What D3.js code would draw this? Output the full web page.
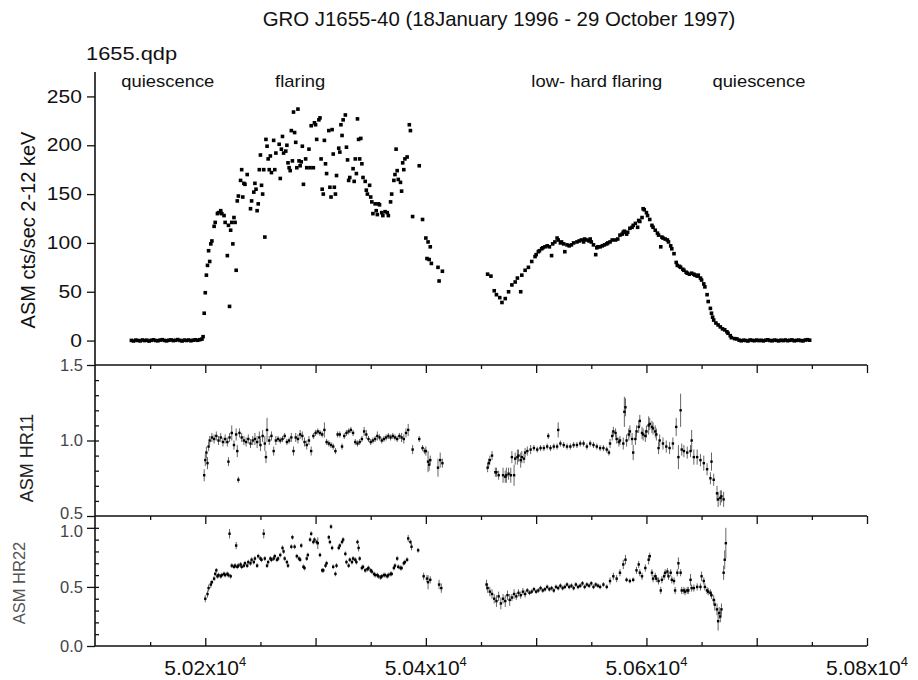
<!DOCTYPE html>
<html>
<head>
<meta charset="utf-8">
<script src="https://cdn.jsdelivr.net/npm/d3@7"></script>
<style>
  body { margin: 0; background: #fff; }
  svg { display: block; font-family: "Liberation Sans", Arial, sans-serif; }
</style>
</head>
<body>
<div class="board"></div>
<script>
// GRO J1655-40, RXTE ASM light curve + hardness ratios

/////// DATA ///////////////////////////////////////

let titleText = 'GRO J1655-40 (18January 1996 - 29 October 1997)';
let fileLabel = '1655.qdp';

let phases = [
	{ label: 'quiescence', day: 50166 },
	{ label: 'flaring', day: 50286 },
	{ label: 'low- hard flaring', day: 50555 },
	{ label: 'quiescence', day: 50702 }
];

let xTicks = [50200, 50400, 50600, 50800];
let xTickText = ['5.02x10', '5.04x10', '5.06x10', '5.08x10'];
let rateTicks = [0, 50, 100, 150, 200, 250];
let hr11Ticks = [0.5, 1.0, 1.5];
let hr22Ticks = [0.0, 0.5, 1.0];

// [MJD, ASM cts/s]
let rateQuiet1 = [[50133,0.2],[50135,-0.4],[50137,0.5],[50139,0.1],[50141,-0.3],[50143,0.6],[50145,0.0],[50147,0.4],[50149,-0.5],[50151,0.3],[50153,0.8],[50155,0.1],[50157,-0.2],[50159,0.5],[50161,0.9],[50163,0.2],[50165,-0.3],[50167,0.4],[50169,0.7],[50171,0.0],[50173,0.3],[50175,1.0],[50177,0.2],[50179,-0.4],[50181,0.5],[50183,0.1],[50185,0.6],[50187,-0.2],[50189,0.4],[50191,0.8],[50193,0.3],[50195,0.9],[50197,1.5],[50198,4.0]];

let rateFlare = [[50199,28],[50200,49],[50201,67],[50202,77],[50203,92],[50204,81],[50205,99],[50206,102],[50208,117],[50209,121],[50211,130],[50212,131],[50214,133],[50215,130],[50217,128],[50218,121],[50220,87],[50221,118],[50222,35],[50223,113],[50224,121],[50225,99],[50226,126],[50227,121],[50228,72],[50229,143],[50230,148],[50232,164],[50233,175],[50234,147],[50235,161],[50236,160],[50238,170],[50241,135],[50242,143],[50244,152],[50245,161],[50246,155],[50247,133],[50248,140],[50249,175],[50250,190],[50251,159],[50252,150],[50253,175],[50254,106],[50255,206],[50256,199],[50257,186],[50258,175],[50259,189],[50260,172],[50262,205],[50263,175],[50264,192],[50267,201],[50268,166],[50269,196],[50270,209],[50271,192],[50273,194],[50274,200],[50275,182],[50276,177],[50277,174],[50278,215],[50279,184],[50280,234],[50281,213],[50282,203],[50283,177],[50284,237],[50285,184],[50286,179],[50287,183],[50288,199],[50289,160],[50291,186],[50292,177],[50294,196],[50295,177],[50296,220],[50298,177],[50299,223],[50300,221],[50301,206],[50303,226],[50304,228],[50305,186],[50306,155],[50307,150],[50308,205],[50309,181],[50310,171],[50312,215],[50313,157],[50314,147],[50315,216],[50316,191],[50317,157],[50318,150],[50319,169],[50321,197],[50322,193],[50323,221],[50324,210],[50325,226],[50327,231],[50328,198],[50329,185],[50330,164],[50331,167],[50334,176],[50335,163],[50336,186],[50337,171],[50338,227],[50339,206],[50340,186],[50341,207],[50342,181],[50343,167],[50345,163],[50346,154],[50347,150],[50349,159],[50350,147],[50351,142],[50352,130],[50354,140],[50355,133],[50356,129],[50357,140],[50358,139],[50360,131],[50361,128],[50363,132],[50365,131],[50366,128],[50368,142],[50369,150],[50371,164],[50372,170],[50373,196],[50374,174],[50375,165],[50377,162],[50378,153],[50379,182],[50380,175],[50381,186],[50383,188],[50385,221],[50386,215],[50388,127],[50394,179],[50397,124],[50400,105],[50401,84],[50402,101],[50403,83],[50404,96],[50405,79],[50411,75],[50412,61],[50415,71]];

let rateLowHard = [[50456,68],[50459,66],[50462,51],[50464,47],[50467,44],[50469,39],[50472,43],[50475,50],[50478,57],[50481,60],[50483,64],[50486,50],[50487,67],[50490,72],[50493,75],[50496,81],[50499,86],[50500,88],[50502,91],[50503,92],[50505,94],[50506,95],[50508,96],[50510,97],[50512,96],[50514,87],[50515,99],[50517,101],[50519,105],[50520,103],[50522,100],[50523,101],[50525,99],[50526,91],[50528,98],[50530,97],[50532,98],[50534,100],[50537,101],[50539,102],[50541,103],[50543,101],[50544,104],[50546,103],[50548,102],[50549,104],[50550,101],[50552,98],[50554,88],[50555,95],[50556,96],[50558,96],[50560,97],[50562,98],[50564,99],[50565,100],[50567,101],[50569,103],[50572,103],[50574,104],[50576,108],[50578,109],[50579,111],[50580,112],[50582,109],[50583,111],[50585,115],[50587,116],[50588,118],[50590,120],[50592,116],[50593,123],[50594,122],[50596,126],[50597,135],[50598,134],[50600,131],[50601,128],[50603,124],[50605,118],[50606,116],[50608,113],[50610,110],[50611,108],[50613,96],[50614,106],[50615,105],[50617,104],[50619,103],[50620,101],[50622,97],[50623,94],[50625,89],[50627,80],[50628,77],[50630,76],[50631,75],[50633,73],[50634,72],[50636,70],[50637,69],[50639,68],[50641,69],[50643,68],[50644,67],[50646,66],[50647,67],[50649,64],[50650,62],[50652,58],[50653,55],[50655,47],[50656,40],[50658,33],[50659,28],[50660,24],[50661,21],[50663,18],[50665,16],[50667,14],[50669,12],[50671,11],[50673,9],[50674,7.5],[50676,5],[50677,3],[50680,2],[50682,1.7]];

let rateQuiet2 = [[50684,0.5],[50686,-0.2],[50688,0.4],[50690,0.1],[50692,-0.4],[50694,0.6],[50696,0.2],[50698,-0.1],[50700,0.5],[50702,0.0],[50704,0.3],[50706,-0.3],[50708,0.4],[50710,0.8],[50712,0.1],[50714,-0.2],[50716,0.5],[50718,0.2],[50720,-0.3],[50722,0.4],[50724,0.0],[50726,0.6],[50728,-0.1],[50730,0.3],[50732,0.7],[50734,-0.2],[50736,0.2],[50738,0.5],[50740,0.0],[50742,-0.3],[50744,0.6],[50746,0.9],[50748,0.4]];

// [MJD, HR1, error]
let hr11Flare = [[50199,0.77,0.04],[50200,0.87,0.04],[50201,0.92,0.04],[50202,0.85,0.04],[50203,0.96,0.03],[50204,1.00,0.03],[50206,1.02,0.03],[50208,1.01,0.03],[50210,1.03,0.03],[50212,1.00,0.03],[50214,1.02,0.03],[50216,0.99,0.03],[50218,1.01,0.03],[50220,0.99,0.03],[50221,0.86,0.03],[50222,1.02,0.03],[50224,1.05,0.05],[50226,0.97,0.03],[50228,1.04,0.04],[50229,0.93,0.04],[50230,0.74,0.02],[50231,1.05,0.03],[50233,1.02,0.03],[50235,1.00,0.03],[50237,0.99,0.03],[50239,1.01,0.03],[50241,0.98,0.03],[50243,1.00,0.03],[50245,1.01,0.04],[50247,0.99,0.04],[50249,1.02,0.04],[50250,0.97,0.04],[50252,1.03,0.04],[50254,0.98,0.05],[50255,0.89,0.04],[50256,1.07,0.08],[50258,1.00,0.03],[50260,1.03,0.03],[50262,0.93,0.03],[50264,1.00,0.03],[50266,1.01,0.02],[50268,1.00,0.02],[50270,1.01,0.02],[50272,1.03,0.02],[50274,0.99,0.02],[50276,1.00,0.02],[50278,1.02,0.03],[50280,0.93,0.03],[50282,1.02,0.03],[50284,1.01,0.03],[50286,1.04,0.03],[50288,1.03,0.03],[50290,0.99,0.03],[50292,0.97,0.03],[50294,1.00,0.03],[50296,0.93,0.03],[50298,1.03,0.02],[50300,1.05,0.02],[50302,1.06,0.02],[50304,1.05,0.02],[50306,1.04,0.02],[50308,1.07,0.05],[50310,0.99,0.02],[50312,0.98,0.02],[50314,0.97,0.02],[50316,0.96,0.02],[50318,0.93,0.02],[50320,1.04,0.02],[50322,1.04,0.02],[50324,0.96,0.02],[50326,1.03,0.02],[50328,1.05,0.02],[50330,1.06,0.02],[50332,1.07,0.02],[50334,1.05,0.02],[50336,0.99,0.02],[50338,0.98,0.02],[50340,0.99,0.02],[50342,1.01,0.02],[50344,1.06,0.03],[50346,1.04,0.03],[50348,1.01,0.02],[50350,0.99,0.02],[50352,1.00,0.02],[50354,1.01,0.02],[50356,1.03,0.03],[50358,1.02,0.02],[50360,1.00,0.02],[50362,1.01,0.02],[50364,1.02,0.02],[50366,1.03,0.02],[50368,1.02,0.02],[50370,1.03,0.02],[50372,1.02,0.02],[50374,1.01,0.02],[50376,1.03,0.02],[50378,1.02,0.03],[50380,1.01,0.03],[50382,1.05,0.03],[50384,1.07,0.04],[50388,0.94,0.03],[50394,1.01,0.02],[50397,0.95,0.02],[50399,0.93,0.02],[50400,0.93,0.03],[50402,0.86,0.07],[50403,0.84,0.04],[50404,0.87,0.03],[50411,0.82,0.06],[50413,0.87,0.05],[50415,0.85,0.03]];

let hr11LowHard = [[50456,0.82,0.03],[50457,0.85,0.03],[50458,0.87,0.03],[50460,0.90,0.03],[50463,0.79,0.03],[50464,0.79,0.03],[50466,0.77,0.03],[50470,0.77,0.05],[50472,0.76,0.04],[50473,0.77,0.05],[50475,0.78,0.04],[50477,0.77,0.05],[50478,0.89,0.04],[50480,0.77,0.07],[50481,0.88,0.04],[50483,0.89,0.05],[50484,0.90,0.04],[50486,0.87,0.05],[50487,0.89,0.04],[50489,0.88,0.03],[50490,0.92,0.03],[50492,0.93,0.03],[50495,0.94,0.03],[50498,0.95,0.02],[50501,0.94,0.02],[50504,0.95,0.02],[50507,0.95,0.02],[50510,0.96,0.02],[50511,1.03,0.02],[50513,0.95,0.02],[50516,0.96,0.02],[50519,0.96,0.02],[50520,1.07,0.05],[50522,0.98,0.02],[50525,0.97,0.02],[50528,0.96,0.02],[50531,0.96,0.02],[50534,0.97,0.02],[50537,0.97,0.02],[50540,0.98,0.02],[50543,0.98,0.02],[50546,0.96,0.02],[50549,0.98,0.02],[50552,0.97,0.02],[50555,0.96,0.02],[50558,0.95,0.02],[50561,0.95,0.02],[50564,0.94,0.02],[50566,0.92,0.02],[50567,0.98,0.03],[50569,1.03,0.03],[50570,1.06,0.03],[50572,1.05,0.03],[50573,1.01,0.03],[50575,0.99,0.03],[50576,1.00,0.03],[50579,0.98,0.04],[50580,1.19,0.10],[50581,1.22,0.06],[50582,1.00,0.04],[50584,1.04,0.04],[50585,1.06,0.04],[50587,1.01,0.04],[50588,0.92,0.05],[50590,1.01,0.04],[50591,1.06,0.04],[50593,1.09,0.04],[50594,1.13,0.04],[50596,1.05,0.04],[50597,1.04,0.04],[50599,1.03,0.04],[50600,1.06,0.04],[50602,1.10,0.06],[50603,1.11,0.04],[50605,1.09,0.04],[50606,1.08,0.04],[50608,1.06,0.04],[50609,1.04,0.04],[50611,0.95,0.04],[50612,1.00,0.04],[50615,0.98,0.04],[50618,0.96,0.04],[50621,0.95,0.04],[50624,0.98,0.04],[50627,1.09,0.06],[50629,0.89,0.08],[50631,1.20,0.11],[50632,0.94,0.04],[50634,0.93,0.04],[50637,0.92,0.04],[50640,0.93,0.04],[50641,1.00,0.07],[50643,0.89,0.05],[50646,0.89,0.05],[50649,0.87,0.04],[50652,0.85,0.05],[50655,0.81,0.04],[50658,0.75,0.04],[50659,0.86,0.06],[50661,0.74,0.04],[50664,0.65,0.05],[50665,0.61,0.05],[50667,0.62,0.05],[50668,0.63,0.04],[50670,0.61,0.05]];

// [MJD, HR2, error]
let hr22Flare = [[50200,0.40,0.03],[50202,0.44,0.03],[50203,0.49,0.03],[50205,0.52,0.03],[50206,0.54,0.02],[50208,0.57,0.02],[50209,0.61,0.02],[50210,0.64,0.02],[50211,0.59,0.02],[50212,0.60,0.02],[50214,0.59,0.02],[50215,0.60,0.02],[50217,0.61,0.02],[50218,0.60,0.02],[50220,0.61,0.02],[50221,0.60,0.02],[50222,0.95,0.04],[50223,0.59,0.02],[50224,0.68,0.02],[50226,0.67,0.02],[50227,0.68,0.02],[50228,0.85,0.03],[50229,0.67,0.02],[50230,0.68,0.02],[50232,0.69,0.02],[50233,0.67,0.02],[50235,0.68,0.02],[50236,0.70,0.02],[50238,0.68,0.02],[50239,0.71,0.02],[50241,0.70,0.02],[50242,0.73,0.02],[50244,0.71,0.02],[50245,0.74,0.02],[50247,0.68,0.02],[50248,0.76,0.02],[50250,0.74,0.02],[50251,0.73,0.02],[50253,0.95,0.04],[50254,0.74,0.02],[50256,0.68,0.02],[50257,0.71,0.02],[50259,0.74,0.02],[50260,0.73,0.02],[50262,0.74,0.02],[50263,0.76,0.02],[50265,0.73,0.02],[50266,0.74,0.02],[50268,0.77,0.02],[50270,0.83,0.02],[50271,0.80,0.02],[50272,0.74,0.02],[50274,0.71,0.02],[50275,0.68,0.02],[50278,0.84,0.02],[50279,0.92,0.02],[50281,0.84,0.02],[50283,0.76,0.02],[50285,0.74,0.02],[50286,0.73,0.02],[50287,0.85,0.02],[50289,0.67,0.02],[50290,0.66,0.02],[50292,0.74,0.02],[50293,0.77,0.02],[50295,0.90,0.02],[50296,0.95,0.02],[50298,0.88,0.02],[50299,0.90,0.02],[50301,0.88,0.02],[50302,0.87,0.05],[50304,0.77,0.02],[50306,0.64,0.02],[50307,0.64,0.02],[50309,0.68,0.02],[50310,0.70,0.02],[50312,0.92,0.02],[50313,0.88,0.02],[50314,1.01,0.02],[50315,0.83,0.02],[50316,0.67,0.02],[50318,0.61,0.02],[50319,0.68,0.02],[50321,0.83,0.02],[50322,0.85,0.02],[50324,0.88,0.02],[50325,0.90,0.02],[50327,0.78,0.02],[50328,0.71,0.02],[50330,0.68,0.02],[50331,0.73,0.02],[50333,0.71,0.02],[50334,0.74,0.02],[50336,0.73,0.02],[50337,0.71,0.02],[50338,0.88,0.02],[50339,0.83,0.03],[50340,0.74,0.02],[50342,0.66,0.02],[50343,0.67,0.02],[50345,0.64,0.02],[50347,0.65,0.02],[50348,0.66,0.02],[50350,0.64,0.02],[50351,0.63,0.02],[50353,0.61,0.02],[50354,0.60,0.02],[50356,0.60,0.02],[50357,0.59,0.02],[50359,0.58,0.02],[50360,0.59,0.02],[50362,0.60,0.02],[50363,0.60,0.02],[50365,0.59,0.02],[50366,0.60,0.02],[50368,0.61,0.02],[50369,0.61,0.02],[50371,0.66,0.02],[50372,0.68,0.02],[50374,0.74,0.02],[50375,0.67,0.02],[50377,0.66,0.02],[50378,0.66,0.02],[50380,0.70,0.02],[50381,0.71,0.02],[50383,0.73,0.02],[50384,0.91,0.03],[50386,0.88,0.02],[50387,0.84,0.03],[50393,0.81,0.02],[50398,0.59,0.03],[50401,0.57,0.03],[50402,0.54,0.06],[50404,0.56,0.03],[50412,0.52,0.04],[50414,0.49,0.04]];

let hr22LowHard = [[50455,0.52,0.04],[50456,0.49,0.04],[50458,0.46,0.04],[50460,0.44,0.04],[50462,0.40,0.04],[50464,0.38,0.05],[50466,0.42,0.04],[50468,0.36,0.05],[50470,0.40,0.04],[50472,0.38,0.05],[50474,0.43,0.04],[50476,0.39,0.05],[50478,0.41,0.03],[50480,0.44,0.04],[50482,0.42,0.03],[50484,0.45,0.03],[50486,0.43,0.03],[50488,0.46,0.03],[50490,0.44,0.03],[50492,0.47,0.02],[50494,0.45,0.02],[50496,0.46,0.02],[50498,0.48,0.02],[50500,0.46,0.02],[50502,0.47,0.02],[50504,0.49,0.02],[50506,0.47,0.02],[50508,0.48,0.02],[50510,0.50,0.02],[50512,0.48,0.02],[50514,0.49,0.02],[50516,0.47,0.02],[50518,0.50,0.02],[50520,0.49,0.02],[50522,0.51,0.02],[50524,0.49,0.02],[50526,0.50,0.02],[50528,0.52,0.02],[50530,0.50,0.02],[50532,0.51,0.02],[50534,0.49,0.02],[50536,0.52,0.02],[50538,0.50,0.02],[50540,0.51,0.02],[50542,0.53,0.02],[50544,0.50,0.02],[50546,0.52,0.02],[50548,0.51,0.02],[50550,0.53,0.02],[50552,0.50,0.02],[50554,0.52,0.02],[50556,0.51,0.02],[50558,0.50,0.02],[50561,0.52,0.02],[50564,0.50,0.02],[50567,0.55,0.03],[50570,0.59,0.03],[50573,0.57,0.03],[50576,0.62,0.03],[50579,0.69,0.04],[50581,0.73,0.04],[50582,0.56,0.02],[50585,0.55,0.02],[50588,0.56,0.02],[50591,0.64,0.03],[50593,0.69,0.03],[50594,0.62,0.03],[50596,0.59,0.03],[50599,0.66,0.03],[50602,0.73,0.04],[50603,0.76,0.03],[50605,0.62,0.03],[50606,0.57,0.03],[50608,0.59,0.03],[50609,0.57,0.03],[50611,0.55,0.03],[50613,0.47,0.03],[50614,0.56,0.03],[50616,0.59,0.03],[50617,0.62,0.03],[50619,0.63,0.03],[50620,0.59,0.03],[50622,0.62,0.03],[50623,0.56,0.03],[50625,0.55,0.03],[50626,0.47,0.03],[50628,0.62,0.03],[50629,0.70,0.05],[50631,0.62,0.03],[50632,0.47,0.03],[50634,0.47,0.03],[50635,0.46,0.03],[50637,0.47,0.03],[50638,0.47,0.03],[50640,0.56,0.05],[50641,0.49,0.03],[50643,0.49,0.03],[50646,0.50,0.03],[50649,0.50,0.03],[50650,0.59,0.04],[50652,0.55,0.03],[50653,0.50,0.03],[50655,0.47,0.03],[50656,0.46,0.03],[50658,0.45,0.03],[50659,0.43,0.03],[50661,0.39,0.04],[50662,0.35,0.05],[50664,0.31,0.05],[50665,0.21,0.08],[50666,0.28,0.05],[50667,0.25,0.05],[50668,0.31,0.05],[50670,0.62,0.06],[50671,0.73,0.08],[50672,0.87,0.13]];

/////// LAYOUT ///////////////////////////////////////

let width = 918, height = 680;
let font = '"Liberation Sans", Arial, sans-serif';

let svg = d3.select('.board').append('svg')
		.attr('width', width)
		.attr('height', height)
		.style('background-color', '#fff');

let x = d3.scaleLinear().domain([50100, 50800]).range([95, 867]);
let yRate = d3.scaleLinear().domain([-25, 275]).range([365, 72]);
let yHr11 = d3.scaleLinear().domain([0.5, 1.5]).range([516, 365]);
let yHr22 = d3.scaleLinear().domain([0, 1.1]).range([646, 516]);

/////// TEXT ///////////////////////////////////////

svg.append('text')
		.attr('x', 499).attr('y', 26)
		.attr('text-anchor', 'middle')
		.style('font-size', '20.4px')
		.attr('fill', '#111')
		.text(titleText);

svg.append('text')
		.attr('transform', 'translate(86,60) scale(1.15,1)')
		.style('font-size', '19px')
		.attr('fill', '#111')
		.text(fileLabel);

svg.selectAll('text.phase')
	.data(phases)
	.enter().append('text')
		.classed('phase', true)
		.attr('transform', d => `translate(${x(d.day)},87) scale(1.15,1)`)
		.attr('text-anchor', 'middle')
		.style('font-size', '16px')
		.attr('fill', '#111')
		.text(d => d.label);

let yTitle = function(label, cx, cy, size, color) {
	svg.append('text')
			.attr('transform', `translate(${cx},${cy}) rotate(-90)`)
			.attr('text-anchor', 'middle')
			.style('font-size', size)
			.attr('fill', color)
			.text(label);
};
yTitle('ASM cts/sec 2-12 keV', 35, 230, '20px', '#111');
yTitle('ASM HR11', 33, 458, '18px', '#222');
yTitle('ASM HR22', 25, 583, '16.5px', '#555');

/////// AXES ///////////////////////////////////////

let styleAxis = function(g, size, color) {
	g.select('.domain').remove();
	g.selectAll('line').attr('stroke', '#111').attr('stroke-width', 1.3);
	g.selectAll('text')
			.style('font-family', font)
			.style('font-size', size)
			.attr('fill', color);
};

svg.append('g')
		.attr('transform', 'translate(95,0)')
		.call(d3.axisLeft(yRate).tickValues(rateTicks).tickSize(8).tickPadding(3))
		.call(g => styleAxis(g, '17.5px', '#111'))
		.call(g => g.selectAll('text').attr('transform', 'scale(1.2,1)'));

svg.append('g')
		.attr('transform', 'translate(95,0)')
		.call(d3.axisLeft(yHr11).tickValues(hr11Ticks).tickSize(8).tickPadding(4).tickFormat(d3.format('.1f')))
		.call(g => styleAxis(g, '16.5px', '#444'))
		.call(g => g.selectAll('.tick').filter(d => d === 0.5).select('text').attr('y', -3));

svg.append('g')
		.attr('transform', 'translate(95,0)')
		.call(d3.axisLeft(yHr22).tickValues(hr22Ticks).tickSize(8).tickPadding(4).tickFormat(d3.format('.1f')))
		.call(g => styleAxis(g, '16.5px', '#444'))
		.call(g => g.selectAll('.tick').filter(d => d === 1.0).select('text').attr('y', 3));

// inner minor ticks on the ratio panels
svg.append('g')
		.attr('transform', 'translate(95,0)')
		.call(d3.axisRight(yHr11).tickValues(d3.range(0.6, 1.5, 0.1)).tickSize(4).tickFormat(''))
		.call(g => styleAxis(g, '1px', '#fff'));
svg.append('g')
		.attr('transform', 'translate(95,0)')
		.call(d3.axisRight(yHr22).tickValues(d3.range(0.1, 1.1, 0.1)).tickSize(4).tickFormat(''))
		.call(g => styleAxis(g, '1px', '#fff'));

// frame lines
svg.append('line')
		.attr('x1', 95).attr('x2', 95).attr('y1', yRate.range()[1]).attr('y2', yHr22.range()[0])
		.attr('stroke', '#111').attr('stroke-width', 1.6);
[yHr11.range()[1], yHr22.range()[1], yHr22.range()[0]].forEach(yy => {
	svg.append('line')
			.attr('x1', 95).attr('x2', 867).attr('y1', yy).attr('y2', yy)
			.attr('stroke', '#111').attr('stroke-width', 1.6);
});

// time ticks along the panel edges
let timeTicks = d3.range(50150, 50801, 50);
let tickLen = d => (d % 100 === 0 ? 8 : 4);
[yHr11.range()[1], yHr22.range()[1]].forEach(yy => {
	svg.append('g')
			.attr('transform', `translate(0,${yy})`)
			.call(d3.axisBottom(x).tickValues(timeTicks).tickSize(0).tickFormat(''))
			.call(g => g.select('.domain').remove())
			.selectAll('.tick').append('line')
				.attr('y2', tickLen)
				.attr('stroke', '#111').attr('stroke-width', 1.3);
});

let bottomAxis = svg.append('g')
		.attr('transform', `translate(0,${yHr22.range()[0]})`)
		.call(d3.axisBottom(x).tickValues(timeTicks).tickSize(0).tickFormat(''))
		.call(g => g.select('.domain').remove());
bottomAxis.selectAll('.tick').append('line')
		.attr('y2', d => -tickLen(d))
		.attr('stroke', '#111').attr('stroke-width', 1.3);

let xLabels = svg.selectAll('text.xlab')
	.data(xTicks)
	.enter().append('text')
		.classed('xlab', true)
		.attr('x', d => x(d))
		.attr('y', 675)
		.attr('text-anchor', 'middle')
		.style('font-size', '21px')
		.attr('fill', '#111');
xLabels.append('tspan').text((d, i) => xTickText[i]);
xLabels.append('tspan')
		.attr('dy', -9)
		.style('font-size', '13px')
		.text('4');

/////// MARKS ///////////////////////////////////////

let rateData = [].concat(rateQuiet1, rateFlare, rateLowHard, rateQuiet2);
svg.append('g').selectAll('rect')
	.data(rateData)
	.enter().append('rect')
		.attr('x', d => x(d[0]) - 1.8)
		.attr('y', d => yRate(d[1]) - 1.8)
		.attr('width', 3.6)
		.attr('height', 3.6)
		.attr('fill', '#000');

let drawRatio = function(data, y) {
	let g = svg.append('g');
	g.selectAll('line')
		.data(data)
		.enter().append('line')
			.attr('x1', d => x(d[0])).attr('x2', d => x(d[0]))
			.attr('y1', d => y(d[1] - d[2]))
			.attr('y2', d => y(d[1] + d[2]))
			.attr('stroke', '#666')
			.attr('stroke-width', 1);
	g.selectAll('rect')
		.data(data)
		.enter().append('rect')
			.attr('x', d => x(d[0]) - 1.2)
			.attr('y', d => y(d[1]) - 1.2)
			.attr('width', 2.4)
			.attr('height', 2.4)
			.attr('fill', '#000');
};

drawRatio(hr11Flare.concat(hr11LowHard), yHr11);
drawRatio(hr22Flare.concat(hr22LowHard), yHr22);
</script>
</body>
</html>
